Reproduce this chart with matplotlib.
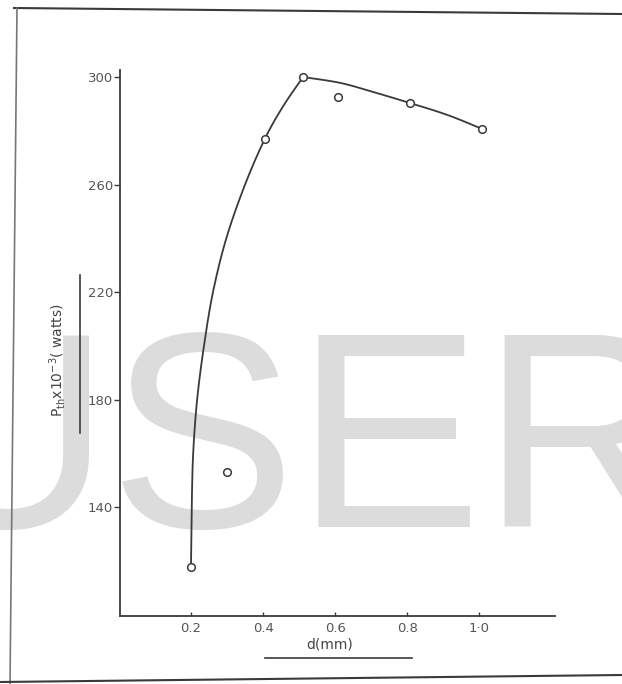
import matplotlib
matplotlib.use("Agg")
import matplotlib.pyplot as plt
from matplotlib.lines import Line2D
import numpy as np

# measured points
d_points = [0.20, 0.30, 0.405, 0.51, 0.608, 0.808, 1.008]
p_points = [117.7, 153.0, 277.0, 300.0, 292.6, 290.3, 280.7]

# hand-drawn curve: rising branch and falling branch
d_rise = [0.200, 0.202, 0.206, 0.217, 0.236, 0.261, 0.298, 0.350, 0.405, 0.455, 0.511]
p_rise = [118.5, 140.0, 160.0, 180.0, 200.0, 220.0, 240.0, 260.0, 277.0, 289.0, 300.0]
d_fall = [0.511, 0.614, 0.706, 0.808, 0.911, 1.008]
p_fall = [300.0, 297.8, 294.4, 290.3, 285.9, 280.7]

xticks = [0.2, 0.4, 0.6, 0.8, 1.0]
xtick_labels = ["0.2", "0.4", "0.6", "0.8", "1·0"]
yticks = [140, 180, 220, 260, 300]
ytick_labels = ["140", "180", "220", "260", "300"]

ink = "#3a3a3a"
W, H = 622, 684
fig = plt.figure(figsize=(W / 100, H / 100), dpi=100)
fig.patch.set_facecolor("white")

# watermark
fig.text(-92 / W, (H - 527) / H, "USER", fontsize=201, family="Liberation Sans",
         color="#dcdcdc", ha="left", va="baseline", zorder=-1)

XL = (0.003, 1.21)
YL = (99.5, 302.6)
ax = fig.add_axes([120 / W, (H - 616) / H, (555 - 120) / W, (616 - 70) / H])
ax.set_facecolor("none")
ax.set_xlim(*XL)
ax.set_ylim(*YL)


def catmull_rom(xs, ys, n=16):
    """Smooth drawing path through the given points (rendering only)."""
    P = np.column_stack([xs, ys]).astype(float)
    P = np.vstack([2 * P[0] - P[1], P, 2 * P[-1] - P[-2]])
    out = []
    t = np.linspace(0, 1, n, endpoint=False)[:, None]
    for i in range(1, len(P) - 2):
        p0, p1, p2, p3 = P[i - 1], P[i], P[i + 1], P[i + 2]
        seg = 0.5 * ((2 * p1) + (-p0 + p2) * t + (2 * p0 - 5 * p1 + 4 * p2 - p3) * t ** 2
                     + (-p0 + 3 * p1 - 3 * p2 + p3) * t ** 3)
        out.append(seg)
    out.append(P[-2][None, :])
    out = np.vstack(out)
    return out[:, 0], out[:, 1]


aspect = 546 / 435


def smooth(xs, ys):
    xn = (np.array(xs) - XL[0]) / (XL[1] - XL[0])
    yn = (np.array(ys) - YL[0]) / (YL[1] - YL[0]) * aspect
    sx, sy = catmull_rom(xn, yn)
    return sx * (XL[1] - XL[0]) + XL[0], sy / aspect * (YL[1] - YL[0]) + YL[0]


for xs, ys in [(d_rise, p_rise), (d_fall, p_fall)]:
    sx, sy = smooth(xs, ys)
    ax.plot(sx, sy, color=ink, lw=1.3, zorder=2, solid_joinstyle="round")
ax.plot(d_points, p_points, linestyle="none", marker="o", ms=5.5, mfc="white",
        mec=ink, mew=1.1, zorder=3)

for s in ["top", "right"]:
    ax.spines[s].set_visible(False)
for s in ["left", "bottom"]:
    ax.spines[s].set_color(ink)
    ax.spines[s].set_linewidth(1.3)

ax.set_xticks(xticks)
ax.set_xticklabels(xtick_labels)
ax.set_yticks(yticks)
ax.set_yticklabels(ytick_labels)
ax.tick_params(axis="x", direction="in", length=3, width=1, colors=ink, pad=4,
               labelsize=9.5, labelcolor="#555555")
ax.tick_params(axis="y", direction="out", length=4, width=1, colors=ink, pad=1,
               labelsize=9.5, labelcolor="#555555")

# axis labels
fig.text(58 / W, (H - 360) / H, r"P$_{\rm th}$x10$^{-3}$( watts)", rotation=90,
         ha="center", va="center", fontsize=10, color="#444444")
fig.add_artist(Line2D([80 / W, 80 / W], [(H - 275) / H, (H - 433) / H],
                      color=ink, lw=1.2))
fig.text(330 / W, (H - 645) / H, "d(mm)", ha="center", va="center",
         fontsize=10, color="#444444")
fig.add_artist(Line2D([265 / W, 412 / W], [(H - 658) / H, (H - 658) / H],
                      color=ink, lw=1.2))

# scan border
fig.add_artist(Line2D([14 / W, 1.0], [(H - 8) / H, (H - 14) / H], color=ink, lw=1.5))
fig.add_artist(Line2D([17 / W, 10 / W], [(H - 8) / H, 0.0], color="#777777", lw=1.2))
fig.add_artist(Line2D([0.0, 1.0], [(H - 682) / H, (H - 675) / H], color=ink, lw=1.5))

fig.savefig("out.png", dpi=100)
